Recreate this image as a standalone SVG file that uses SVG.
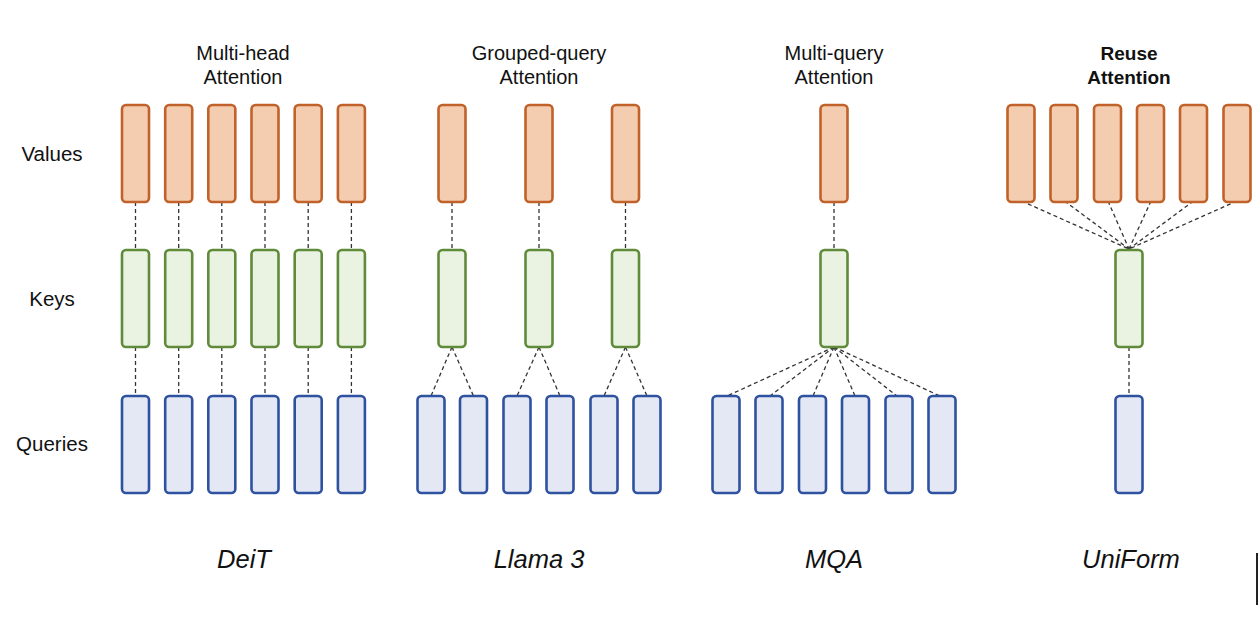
<svg xmlns="http://www.w3.org/2000/svg" width="1258" height="624" viewBox="0 0 1258 624">
<style>
.v{fill:#F4CDB0;stroke:#C0622A;stroke-width:2.6}
.k{fill:#EAF2E2;stroke:#5F8B3A;stroke-width:2.6}
.q{fill:#E3E8F4;stroke:#2F52A0;stroke-width:2.6}
.t{font-family:"Liberation Sans",Arial,sans-serif;font-size:20px;fill:#111;text-anchor:middle}
.b{font-weight:bold;font-size:19px}
.lab{font-family:"Liberation Sans",Arial,sans-serif;font-size:20.5px;fill:#111;text-anchor:middle}
.m{font-family:"Liberation Sans",Arial,sans-serif;font-size:25.5px;font-style:italic;fill:#111;text-anchor:middle}
.c{stroke:#333;stroke-width:1.3;stroke-dasharray:4 3;fill:none}
</style>
<defs>
<rect id="box" x="-13.5" y="0" width="27" height="97" rx="4"/>
</defs>
<rect width="1258" height="624" fill="#fff"/>
<g id="row-labels">
<text class="lab" x="52" y="161">Values</text>
<text class="lab" x="52" y="306">Keys</text>
<text class="lab" x="52" y="451">Queries</text>
</g>
<g id="titles">
<text class="t" x="243" y="60">Multi-head</text><text class="t" x="243" y="84">Attention</text>
<text class="t" x="539" y="60">Grouped-query</text><text class="t" x="539" y="84">Attention</text>
<text class="t" x="834" y="60">Multi-query</text><text class="t" x="834" y="84">Attention</text>
<text class="t b" x="1129" y="60">Reuse</text><text class="t b" x="1129" y="84">Attention</text>
</g>
<g id="captions">
<text class="m" x="244" y="568">DeiT</text>
<text class="m" x="539" y="568">Llama 3</text>
<text class="m" x="834" y="568">MQA</text>
<text class="m" x="1131" y="568">UniForm</text>
</g>
<g id="connectors" class="c">
<path d="M135.5 202V250M178.7 202V250M221.8 202V250M265 202V250M308.2 202V250M351.4 202V250"/>
<path d="M135.5 347V396M178.7 347V396M221.8 347V396M265 347V396M308.2 347V396M351.4 347V396"/>
<path d="M452 202V250M539 202V250M625.5 202V250"/>
<path d="M452 347L431 396M452 347L473.5 396M539 347L517 396M539 347L560 396M625.5 347L604 396M625.5 347L647 396"/>
<path d="M834 202V250"/>
<path d="M834 347L727 396M834 347L770 396M834 347L813 396M834 347L855 396M834 347L897 396M834 347L940 396"/>
<path d="M1021.5 201L1129 249M1064.5 201L1129 249M1108 201L1129 249M1151 201L1129 249M1193.5 201L1129 249M1237 201L1129 249"/>
<path d="M1129 347V396"/>
</g>
<g id="deit-values"><use href="#box" class="v" x="135.5" y="105"/><use href="#box" class="v" x="178.7" y="105"/><use href="#box" class="v" x="221.8" y="105"/><use href="#box" class="v" x="265" y="105"/><use href="#box" class="v" x="308.2" y="105"/><use href="#box" class="v" x="351.4" y="105"/></g>
<g id="deit-keys"><use href="#box" class="k" x="135.5" y="250"/><use href="#box" class="k" x="178.7" y="250"/><use href="#box" class="k" x="221.8" y="250"/><use href="#box" class="k" x="265" y="250"/><use href="#box" class="k" x="308.2" y="250"/><use href="#box" class="k" x="351.4" y="250"/></g>
<g id="deit-queries"><use href="#box" class="q" x="135.5" y="396"/><use href="#box" class="q" x="178.7" y="396"/><use href="#box" class="q" x="221.8" y="396"/><use href="#box" class="q" x="265" y="396"/><use href="#box" class="q" x="308.2" y="396"/><use href="#box" class="q" x="351.4" y="396"/></g>
<g id="llama-values"><use href="#box" class="v" x="452" y="105"/><use href="#box" class="v" x="539" y="105"/><use href="#box" class="v" x="625.5" y="105"/></g>
<g id="llama-keys"><use href="#box" class="k" x="452" y="250"/><use href="#box" class="k" x="539" y="250"/><use href="#box" class="k" x="625.5" y="250"/></g>
<g id="llama-queries"><use href="#box" class="q" x="431" y="396"/><use href="#box" class="q" x="473.5" y="396"/><use href="#box" class="q" x="517" y="396"/><use href="#box" class="q" x="560" y="396"/><use href="#box" class="q" x="604" y="396"/><use href="#box" class="q" x="647" y="396"/></g>
<g id="mqa-values"><use href="#box" class="v" x="834" y="105"/></g>
<g id="mqa-keys"><use href="#box" class="k" x="834" y="250"/></g>
<g id="mqa-queries"><use href="#box" class="q" x="726" y="396"/><use href="#box" class="q" x="769" y="396"/><use href="#box" class="q" x="812.5" y="396"/><use href="#box" class="q" x="855.5" y="396"/><use href="#box" class="q" x="899" y="396"/><use href="#box" class="q" x="942" y="396"/></g>
<g id="uniform-values"><use href="#box" class="v" x="1021" y="105"/><use href="#box" class="v" x="1064" y="105"/><use href="#box" class="v" x="1107.5" y="105"/><use href="#box" class="v" x="1150.5" y="105"/><use href="#box" class="v" x="1193.5" y="105"/><use href="#box" class="v" x="1237" y="105"/></g>
<g id="uniform-keys"><use href="#box" class="k" x="1129" y="250"/></g>
<g id="uniform-queries"><use href="#box" class="q" x="1129" y="396"/></g>
<rect x="1256" y="553" width="2" height="52" fill="#222"/>
</svg>
